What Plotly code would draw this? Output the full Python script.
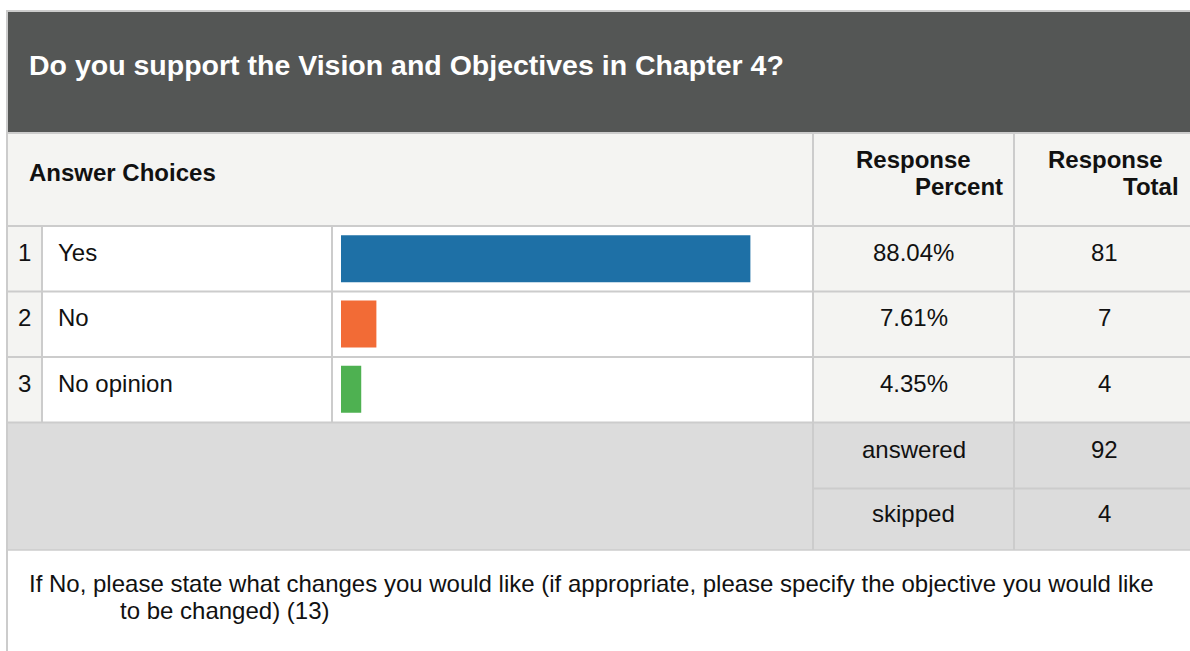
import plotly.graph_objects as go

# ---------------- data ----------------
title_text = "Do you support the Vision and Objectives in Chapter 4?"
header_choices = "Answer Choices"
header_percent = ["Response", "Percent"]
header_total = ["Response", "Total"]
row_numbers = ["1", "2", "3"]
choices = ["Yes", "No", "No opinion"]
percents = [88.04, 7.61, 4.35]
totals = [81, 7, 4]
bar_colors = ["#1e70a6", "#f26b36", "#4eb151"]
summary_labels = ["answered", "skipped"]
summary_values = [92, 4]
footer_lines = [
    "If No, please state what changes you would like (if appropriate, please specify the objective you would like",
    "to be changed) (13)",
]

# ---------------- geometry helpers (pixels -> paper) ----------------
W, H = 1190, 651


def px(x):
    return x / W


def py(y):
    return 1 - y / H


FONT = "Liberation Sans, Arial, Helvetica, sans-serif"
GRID = "#cccccc"
LIGHT = "#f4f4f2"
DARK = "#545655"
SUMMARY = "#dcdcdc"
TXT = "#111111"

row_tops = [226, 291, 357]
row_bottom = 422

shapes = []


def rect(x0, y0, x1, y1, fill):
    shapes.append(dict(type="rect", xref="paper", yref="paper", x0=px(x0), x1=px(x1),
                       y0=py(y1), y1=py(y0), fillcolor=fill, line=dict(width=0), layer="below"))


def line(x0, y0, x1, y1, w=2, color=GRID):
    shapes.append(dict(type="line", xref="paper", yref="paper", x0=px(x0), x1=px(x1),
                       y0=py(y0), y1=py(y1), line=dict(color=color, width=w), layer="below"))


# title band
rect(8, 12, W, 132, DARK)
# header row
rect(8, 133, W, 226, LIGHT)
# data rows
bounds = row_tops + [row_bottom]
for i in range(len(choices)):
    t, b = bounds[i], bounds[i + 1]
    rect(8, t, 42, b, LIGHT)
    rect(42, t, 813, b, "#ffffff")
    rect(813, t, W, b, LIGHT)
# summary block
rect(8, 423, W, 550, SUMMARY)

# grid lines
line(7, 10, 7, H)                 # outer left border
line(6, 11, W, 11)                # outer top border
line(8, 133, W, 133)              # below title
for y in [226, 291.5, 357, 422.5]:
    line(8, y, W, y)
line(813, 488.5, W, 488.5)
line(8, 550, W, 550, w=1.5)
line(42, 226, 42, 422)
line(332, 226, 332, 422)
line(813, 133, 813, 550)
line(1014, 133, 1014, 550)

# ---------------- annotations ----------------
ann = []


def text(x, y, s, anchor="left", size=24, bold=False, color=TXT):
    # compensate plotly's small annotation padding so glyphs land on the pixel
    shift = {"left": -2.5, "right": 2.5, "center": 0}[anchor]
    ann.append(dict(xref="paper", yref="paper", x=px(x), y=py(y), xshift=shift,
                    text=(f"<b>{s}</b>" if bold else s),
                    showarrow=False, xanchor=anchor, yanchor="middle",
                    font=dict(family=FONT, size=size, color=color)))


text(29, 65, title_text, size=28.5, bold=True, color="#ffffff")
text(29, 173, header_choices, bold=True)
text(970, 159.5, header_percent[0], anchor="right", bold=True)
text(1002, 186.5, header_percent[1], anchor="right", bold=True)
text(1162, 159.5, header_total[0], anchor="right", bold=True)
text(1178, 186.5, header_total[1], anchor="right", bold=True)

for i in range(len(choices)):
    yc = (bounds[i] + bounds[i + 1]) / 2 - 6.5
    text(24, yc, row_numbers[i], anchor="center")
    text(58, yc, choices[i])
    text(913.5, yc, f"{percents[i]:.2f}%", anchor="center")
    text(1104, yc, str(totals[i]), anchor="center")

for lab, val, yc in zip(summary_labels, summary_values, [449, 513]):
    text(913.5, yc, lab, anchor="center")
    text(1104, yc, str(val), anchor="center")

text(29, 583, footer_lines[0])
text(120, 610, footer_lines[1])

# ---------------- bars ----------------
fig = go.Figure(go.Bar(
    x=percents, y=choices, orientation="h", width=0.72,
    marker=dict(color=bar_colors, line=dict(width=0)),
    hoverinfo="skip",
))

fig.update_layout(
    width=W, height=H, margin=dict(l=0, r=0, t=0, b=0),
    paper_bgcolor="#ffffff", plot_bgcolor="rgba(0,0,0,0)",
    showlegend=False, shapes=shapes, annotations=ann,
    xaxis=dict(domain=[px(341), px(341 + 465)], range=[0, 100], visible=False, fixedrange=True),
    yaxis=dict(domain=[py(422), py(226)], type="category", autorange="reversed",
               visible=False, fixedrange=True),
)

fig.write_html("out.html", config={"displayModeBar": False},
               post_script="document.body.style.margin='0';")
